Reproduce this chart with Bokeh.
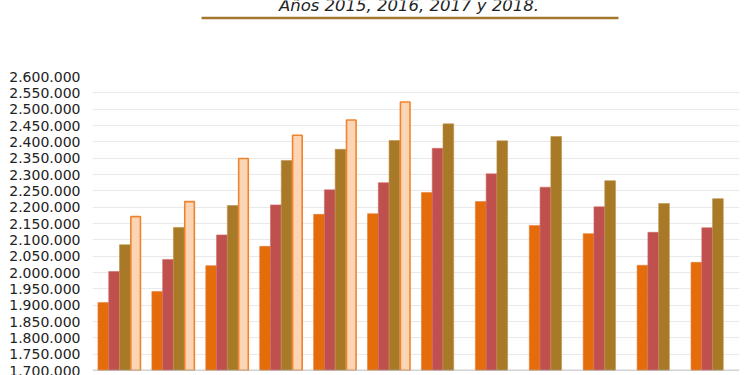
from bokeh.plotting import figure
from bokeh.models import ColumnDataSource, FactorRange, Range1d, FixedTicker, Span
from bokeh.layouts import column
from bokeh.transform import dodge
from bokeh.core.properties import value
from bokeh.embed import file_html
from bokeh.resources import INLINE

months = ["Enero", "Febrero", "Marzo", "Abril", "Mayo", "Junio",
          "Julio", "Agosto", "Septiembre", "Octubre", "Noviembre", "Diciembre"]

y2015 = [1908000, 1942000, 2021000, 2080000, 2178000, 2180000,
         2245000, 2217000, 2144000, 2119000, 2022000, 2031000]
y2016 = [2003000, 2040000, 2115000, 2207000, 2253000, 2275000,
         2380000, 2302000, 2261000, 2201000, 2123000, 2137000]
y2017 = [2085000, 2138000, 2205000, 2343000, 2377000, 2404000,
         2455000, 2403000, 2416000, 2281000, 2211000, 2226000]
months_2018 = ["Enero", "Febrero", "Marzo", "Abril", "Mayo", "Junio"]
y2018 = [2171000, 2217000, 2349000, 2420000, 2467000, 2522000]

y_ticks = [1700000, 1750000, 1800000, 1850000, 1900000, 1950000, 2000000,
           2050000, 2100000, 2150000, 2200000, 2250000, 2300000, 2350000,
           2400000, 2450000, 2500000, 2550000, 2600000]
y_tick_labels = ["1.700.000", "1.750.000", "1.800.000", "1.850.000", "1.900.000",
                 "1.950.000", "2.000.000", "2.050.000", "2.100.000", "2.150.000",
                 "2.200.000", "2.250.000", "2.300.000", "2.350.000", "2.400.000",
                 "2.450.000", "2.500.000", "2.550.000", "2.600.000"]

title_text = "Años 2015, 2016, 2017 y 2018."

FONT = "DejaVu Sans"
LEFT, RIGHT = 92, 11

# ---- title strip (coordinates in page pixels) ----
TOP_H = 60
t = figure(width=750, height=TOP_H, output_backend="svg", toolbar_location=None,
           x_range=Range1d(LEFT, 750 - RIGHT), y_range=Range1d(TOP_H, 0),
           min_border_left=LEFT, min_border_right=RIGHT, min_border_top=0,
           min_border_bottom=0, outline_line_color=None)
t.xaxis.visible = False
t.yaxis.visible = False
t.grid.visible = False
t.text(x=[408.5], y=[5], text=[title_text], text_font=value(FONT),
       text_font_style="italic", text_font_size="16.5px", text_color="#222222",
       text_align="center", text_baseline="alphabetic")
t.segment(x0=[201], y0=[17.5], x1=[618], y1=[17.5], line_color="#A4782C", line_width=2.5)

# ---- main chart ----
src = ColumnDataSource(dict(month=months, y2015=y2015, y2016=y2016, y2017=y2017))
src18 = ColumnDataSource(dict(month=months_2018, y2018=y2018))

p = figure(width=750, height=375 - TOP_H, output_backend="svg", toolbar_location=None,
           x_range=FactorRange(*months, range_padding=0),
           y_range=Range1d(y_ticks[0], y_ticks[-1]),
           min_border_left=LEFT, min_border_right=RIGHT, min_border_top=16,
           min_border_bottom=5, outline_line_color=None)

W = 0.198
p.vbar(x=dodge("month", -0.3, range=p.x_range), top="y2015", bottom=y_ticks[0], width=W,
       source=src, fill_color="#E46C0A", line_color="#E8803A", line_width=0.6)
p.vbar(x=dodge("month", -0.1, range=p.x_range), top="y2016", bottom=y_ticks[0], width=W,
       source=src, fill_color="#C0504D", line_color="#CC6A67", line_width=0.6)
p.vbar(x=dodge("month", 0.1, range=p.x_range), top="y2017", bottom=y_ticks[0], width=W,
       source=src, fill_color="#A87926", line_color="#BA9048", line_width=0.6)
p.vbar(x=dodge("month", 0.3, range=p.x_range), top="y2018", bottom=y_ticks[0], width=W - 0.02,
       source=src18, fill_color="#FCD5B5", line_color="#F0842E", line_width=1.6)

p.yaxis.ticker = FixedTicker(ticks=y_ticks)
p.yaxis.major_label_overrides = {tk: lb for tk, lb in zip(y_ticks, y_tick_labels)}
p.yaxis.major_label_text_font = FONT
p.yaxis.major_label_text_font_size = "14px"
p.yaxis.major_label_text_color = "#222222"
p.yaxis.axis_line_color = None
p.yaxis.major_tick_line_color = None
p.yaxis.minor_tick_line_color = None
p.yaxis.major_tick_out = 0
p.yaxis.major_tick_in = 0
p.yaxis.major_label_standoff = 12

p.xaxis.visible = False
p.add_layout(Span(location=y_ticks[0], dimension="width",
                  line_color="#A6A6A6", line_width=1.5))

p.xgrid.grid_line_color = None
p.ygrid.grid_line_color = "#E9E9E9"
p.ygrid.grid_line_width = 1

layout = column(t, p, spacing=0)
open("out.html", "w").write(file_html(layout, INLINE))
